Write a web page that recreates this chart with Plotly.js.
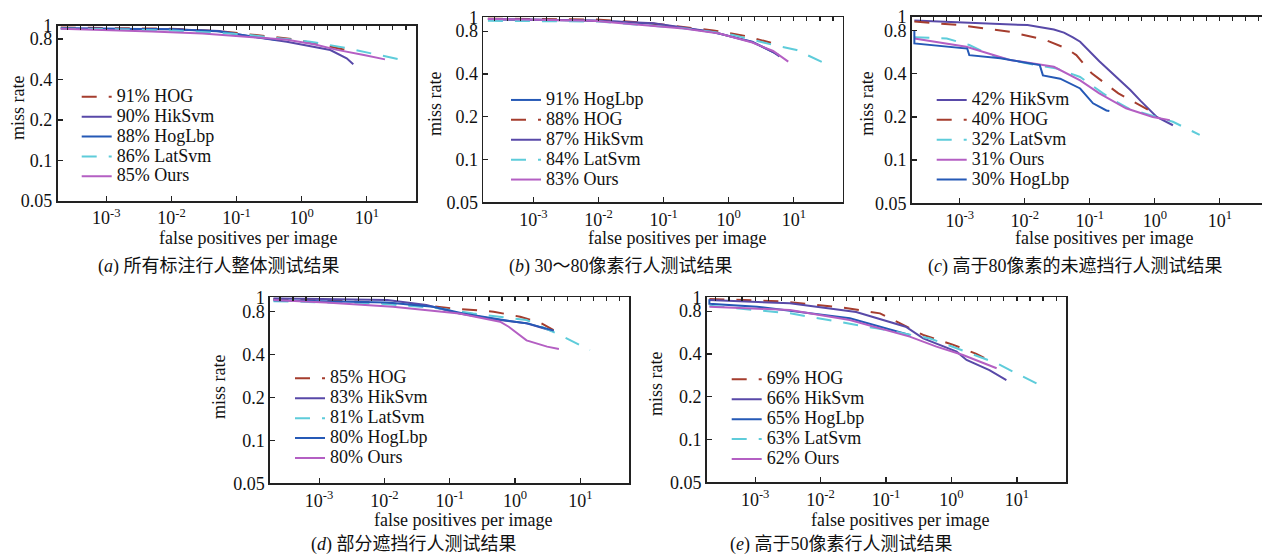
<!DOCTYPE html>
<html><head><meta charset="utf-8">
<script src="https://cdn.plot.ly/plotly-3.0.1.min.js"></script>
<style>html,body{margin:0;padding:0;background:#fff}</style>
</head><body><div id="chart" style="width:1262px;height:559px"></div>
<script>
// ---------- tick labels ----------
const xTickVals = [0.001, 0.01, 0.1, 1, 10];
const xTickText = ['10<sup>-3</sup>', '10<sup>-2</sup>', '10<sup>-1</sup>', '10<sup>0</sup>', '10<sup>1</sup>'];
const yTickVals = [0.05, 0.1, 0.2, 0.4, 0.8, 1];
const yTickText = ['0.05', '0.1', '0.2', '0.4', '0.8', '1'];

// ---------- panel (a) ----------
const aOrder = ['HOG', 'HikSvm', 'HogLbp', 'LatSvm', 'Ours'];
const aRates = ['91%', '90%', '88%', '86%', '85%'];
const a_HOG_fppi = [2e-4, 1e-3, 0.01, 0.05, 0.16, 0.6, 1.5, 3, 4.4, 5.5];
const a_HOG_mr = [0.975, 0.97, 0.955, 0.92, 0.87, 0.81, 0.75, 0.70, 0.67, 0.615];
const a_HikSvm_fppi = [2e-4, 1e-3, 0.01, 0.055, 0.18, 0.59, 1.5, 2.75, 4.9, 6.2];
const a_HikSvm_mr = [0.96, 0.955, 0.945, 0.92, 0.83, 0.765, 0.70, 0.663, 0.575, 0.52];
const a_HogLbp_fppi = [2e-4, 1e-3, 0.01, 0.05, 0.15, 0.4];
const a_HogLbp_mr = [0.965, 0.958, 0.945, 0.915, 0.85, 0.79];
const a_LatSvm_fppi = [2e-4, 1e-3, 0.01, 0.12, 0.47, 1.35, 3.9, 12, 32, 42];
const a_LatSvm_mr = [0.955, 0.95, 0.925, 0.87, 0.81, 0.765, 0.70, 0.626, 0.565, 0.55];
const a_Ours_fppi = [2e-4, 1e-3, 5e-3, 0.03, 0.15, 0.6, 1.6, 3.5, 9, 19];
const a_Ours_mr = [0.955, 0.935, 0.91, 0.88, 0.835, 0.79, 0.73, 0.665, 0.61, 0.565];

// ---------- panel (b) ----------
const bOrder = ['HogLbp', 'HOG', 'HikSvm', 'LatSvm', 'Ours'];
const bRates = ['91%', '88%', '87%', '84%', '83%'];
const b_HOG_fppi = [2e-4, 1e-3, 9e-3, 0.05, 0.16, 0.58, 1.8, 4.8, 5.4];
const b_HOG_mr = [0.98, 0.975, 0.965, 0.92, 0.87, 0.81, 0.74, 0.656, 0.625];
const b_HikSvm_fppi = [2e-4, 1e-3, 0.01, 0.07, 0.58, 2.3, 4.8, 6];
const b_HikSvm_mr = [0.97, 0.965, 0.945, 0.908, 0.79, 0.67, 0.57, 0.53];
const b_HogLbp_fppi = [2e-4, 1e-3, 0.01, 0.07, 0.58, 2.3, 4.5, 5.8];
const b_HogLbp_mr = [0.972, 0.966, 0.948, 0.90, 0.785, 0.675, 0.58, 0.545];
const b_LatSvm_fppi = [2e-4, 1e-3, 0.01, 0.1, 0.32, 1.2, 3, 4.8, 11, 38];
const b_LatSvm_mr = [0.945, 0.945, 0.935, 0.86, 0.82, 0.75, 0.67, 0.64, 0.59, 0.45];
const b_Ours_fppi = [2e-4, 1e-3, 8e-3, 0.18, 0.72, 2.3, 4.8, 8.2];
const b_Ours_mr = [0.975, 0.965, 0.947, 0.84, 0.77, 0.665, 0.58, 0.488];

// ---------- panel (c) ----------
const cOrder = ['HikSvm', 'HOG', 'LatSvm', 'Ours', 'HogLbp'];
const cRates = ['42%', '40%', '32%', '31%', '30%'];
const c_HikSvm_fppi = [2e-4, 1.6e-3, 0.011, 0.028, 0.04, 0.055, 0.071, 0.14, 0.25, 0.42, 0.6, 1.07, 1.9];
const c_HikSvm_mr = [0.94, 0.91, 0.875, 0.816, 0.775, 0.718, 0.67, 0.49, 0.385, 0.308, 0.26, 0.2, 0.175];
const c_HOG_fppi = [2e-4, 1e-3, 5.9e-3, 0.021, 0.044, 0.062, 0.107, 0.275, 0.8, 0.9];
const c_HOG_mr = [0.925, 0.875, 0.786, 0.688, 0.6, 0.54, 0.403, 0.292, 0.224, 0.218];
const c_LatSvm_fppi = [2e-4, 6.3e-4, 1.4e-3, 2.3e-3, 3.6e-3, 0.0107, 0.031, 0.071, 0.16, 0.23, 0.42, 1.5, 1.9, 4.9];
const c_LatSvm_mr = [0.72, 0.706, 0.635, 0.57, 0.526, 0.473, 0.435, 0.38, 0.292, 0.263, 0.226, 0.19, 0.185, 0.15];
const c_Ours_fppi = [2e-4, 1.26e-3, 5.9e-3, 0.028, 0.071, 0.14, 0.36, 0.93, 1.7];
const c_Ours_mr = [0.706, 0.618, 0.50, 0.448, 0.36, 0.292, 0.23, 0.20, 0.19];
const c_HogLbp_fppi = [2e-4, 2e-4, 1.3e-3, 1.4e-3, 4.2e-3, 0.017, 0.019, 0.035, 0.071, 0.112, 0.18, 0.2];
const c_HogLbp_mr = [0.80, 0.652, 0.60, 0.54, 0.513, 0.46, 0.39, 0.37, 0.316, 0.249, 0.222, 0.22];

// ---------- panel (d) ----------
const dOrder = ['HOG', 'HikSvm', 'LatSvm', 'HogLbp', 'Ours'];
const dRates = ['85%', '83%', '81%', '80%', '80%'];
const d_HOG_fppi = [2e-4, 4.2e-3, 0.044, 0.11, 0.47, 1.2, 2.5, 3.9];
const d_HOG_mr = [0.975, 0.933, 0.875, 0.837, 0.794, 0.732, 0.66, 0.59];
const d_HikSvm_fppi = [2e-4, 0.011, 0.044, 0.14, 0.59, 1.5, 3.9];
const d_HikSvm_mr = [0.984, 0.958, 0.884, 0.77, 0.694, 0.658, 0.58];
const d_LatSvm_fppi = [2e-4, 0.01, 0.071, 0.23, 1.5, 4.9, 14];
const d_LatSvm_mr = [0.94, 0.9, 0.837, 0.77, 0.694, 0.545, 0.428];
const d_HogLbp_fppi = [2e-4, 0.011, 0.055, 0.16, 0.59, 1.6, 3.9];
const d_HogLbp_mr = [0.955, 0.92, 0.86, 0.77, 0.70, 0.655, 0.585];
const d_Ours_fppi = [2e-4, 1.26e-3, 0.0135, 0.14, 0.59, 0.8, 1.5, 3.1, 4.7];
const d_Ours_mr = [0.958, 0.92, 0.86, 0.77, 0.676, 0.623, 0.50, 0.452, 0.435];

// ---------- panel (e) ----------
const eOrder = ['HOG', 'HikSvm', 'HogLbp', 'LatSvm', 'Ours'];
const eRates = ['69%', '66%', '65%', '63%', '62%'];
const e_HOG_fppi = [2e-4, 2.4e-3, 0.022, 0.081, 0.37, 1.07, 2.4, 4];
const e_HOG_mr = [0.975, 0.94, 0.846, 0.772, 0.544, 0.463, 0.40, 0.355];
const e_HikSvm_fppi = [2e-4, 3.4e-3, 0.035, 0.2, 0.37, 1.2, 1.7, 3.8, 6.9];
const e_HikSvm_mr = [0.958, 0.908, 0.79, 0.622, 0.514, 0.415, 0.363, 0.308, 0.262];
const e_HogLbp_fppi = [2e-4, 2e-4, 1.07e-3, 0.028, 0.23];
const e_HogLbp_mr = [0.97, 0.90, 0.86, 0.712, 0.544];
const e_LatSvm_fppi = [2e-4, 3.4e-3, 0.072, 0.47, 1.2, 4.9, 12.3, 25];
const e_LatSvm_mr = [0.874, 0.772, 0.605, 0.514, 0.438, 0.344, 0.277, 0.235];
const e_Ours_fppi = [2e-4, 3.4e-3, 0.028, 0.23, 0.59, 1.5, 4.9];
const e_Ours_mr = [0.86, 0.815, 0.693, 0.529, 0.45, 0.393, 0.317];

// ---------- text ----------
const captions = ['(<i>a</i>) 所有标注行人整体测试结果', '(<i>b</i>) 30～80像素行人测试结果',
  '(<i>c</i>) 高于80像素的未遮挡行人测试结果', '(<i>d</i>) 部分遮挡行人测试结果', '(<i>e</i>) 高于50像素行人测试结果'];
const xTitle = 'false positives per image';
const yTitle = 'miss rate';

// ---------- styles ----------
const W = 1262, H = 559;
const colors = {HOG: '#A53D2E', HikSvm: '#5849A8', HogLbp: '#2559B6', LatSvm: '#5ECCDA', Ours: '#B45FC3'};
const dashes = {HOG: '15px,12px', LatSvm: '15px,12px', HikSvm: 'solid', HogLbp: 'solid', Ours: 'solid'};
const serif = 'Liberation Serif, Times New Roman, serif';
const cjk = 'Liberation Serif, Noto Sans CJK SC, serif';

// pixel geometry of each panel: [left, right, top, bottom], x log range, legend pos, text pos
const geo = [
  {box: [57.5, 416, 26, 201], xr: [-3.75, 1.755], leg: [76.7, 81.8], cap: [219, 266], xt: [248, 238], yt: [18, 108], mirror: true},
  {box: [483.3, 842.7, 17.3, 202.3], xr: [-3.77, 1.75], leg: [506, 85], cap: [620.5, 266], xt: [676.7, 238], yt: [435, 103], mirror: true},
  {box: [911.7, 1262, 16.7, 203.3], xr: [-3.74, 1.649], leg: [931.7, 85], cap: [1075, 266], xt: [1103.8, 238], yt: [866.7, 103], mirror: false},
  {box: [270, 629.3, 297.3, 483.3], xr: [-3.752, 1.75], leg: [290, 363.4], cap: [413.7, 544], xt: [463, 520], yt: [218.3, 386.7], mirror: true},
  {box: [706.7, 1066, 297.3, 482.3], xr: [-3.74, 1.75], leg: [726.7, 364.4], cap: [841.5, 544], xt: [900, 520], yt: [656.7, 383.3], mirror: true}
];

const panels = [
  {order: aOrder, rates: aRates, d: {HOG: [a_HOG_fppi, a_HOG_mr], HikSvm: [a_HikSvm_fppi, a_HikSvm_mr], HogLbp: [a_HogLbp_fppi, a_HogLbp_mr], LatSvm: [a_LatSvm_fppi, a_LatSvm_mr], Ours: [a_Ours_fppi, a_Ours_mr]}},
  {order: bOrder, rates: bRates, d: {HOG: [b_HOG_fppi, b_HOG_mr], HikSvm: [b_HikSvm_fppi, b_HikSvm_mr], HogLbp: [b_HogLbp_fppi, b_HogLbp_mr], LatSvm: [b_LatSvm_fppi, b_LatSvm_mr], Ours: [b_Ours_fppi, b_Ours_mr]}},
  {order: cOrder, rates: cRates, d: {HOG: [c_HOG_fppi, c_HOG_mr], HikSvm: [c_HikSvm_fppi, c_HikSvm_mr], HogLbp: [c_HogLbp_fppi, c_HogLbp_mr], LatSvm: [c_LatSvm_fppi, c_LatSvm_mr], Ours: [c_Ours_fppi, c_Ours_mr]}},
  {order: dOrder, rates: dRates, d: {HOG: [d_HOG_fppi, d_HOG_mr], HikSvm: [d_HikSvm_fppi, d_HikSvm_mr], HogLbp: [d_HogLbp_fppi, d_HogLbp_mr], LatSvm: [d_LatSvm_fppi, d_LatSvm_mr], Ours: [d_Ours_fppi, d_Ours_mr]}},
  {order: eOrder, rates: eRates, d: {HOG: [e_HOG_fppi, e_HOG_mr], HikSvm: [e_HikSvm_fppi, e_HikSvm_mr], HogLbp: [e_HogLbp_fppi, e_HogLbp_mr], LatSvm: [e_LatSvm_fppi, e_LatSvm_mr], Ours: [e_Ours_fppi, e_Ours_mr]}}
];

const traces = [];
const layout = {
  width: W, height: H, margin: {l: 0, r: 0, t: 0, b: 0},
  paper_bgcolor: '#fff', plot_bgcolor: 'rgba(0,0,0,0)',
  showlegend: true, annotations: []
};
const px2x = p => p / W, py2y = p => 1 - p / H;

panels.forEach((p, i) => {
  const k = i + 1;
  const xid = k === 1 ? 'x' : 'x' + k, yid = k === 1 ? 'y' : 'y' + k;
  const g = geo[i];
  const legKey = k === 1 ? 'legend' : 'legend' + k;
  p.order.forEach((m, j) => {
    traces.push({
      type: 'scatter', mode: 'lines', x: p.d[m][0], y: p.d[m][1],
      xaxis: xid, yaxis: yid, legend: legKey,
      name: '<span style="font-size:18px">' + p.rates[j] + ' ' + m + '</span>',
      line: {color: colors[m], width: 2, dash: dashes[m]},
      hoverinfo: 'skip'
    });
  });
  const xdom = [px2x(g.box[0]), Math.min(1, px2x(g.box[1]))];
  const ydom = [py2y(g.box[3]), py2y(g.box[2])];
  layout[k === 1 ? 'xaxis' : 'xaxis' + k] = {
    domain: xdom, anchor: yid, type: 'log', range: g.xr,
    tickmode: 'array', tickvals: xTickVals, ticktext: xTickText,
    ticks: 'inside', ticklen: 5, tickwidth: 1.2, tickcolor: '#222',
    showline: true, linecolor: '#222', linewidth: 1.6, mirror: false,
    showgrid: false, zeroline: false,
    tickfont: {family: serif, size: 18, color: '#111'}
  };
  layout[k === 1 ? 'yaxis' : 'yaxis' + k] = {
    domain: ydom, anchor: xid, type: 'log', range: [Math.log10(0.05) - 0.0005, 0.0005],
    tickmode: 'array', tickvals: yTickVals, ticktext: yTickText,
    ticks: 'inside', ticklen: 5, tickwidth: 1.2, tickcolor: '#222',
    showline: true, linecolor: '#222', linewidth: 1.6, mirror: g.mirror,
    showgrid: false, zeroline: false,
    tickfont: {family: serif, size: 18, color: '#111'}
  };
  // top border with small evenly spaced ticks (every 0.2 decade), as a second x axis
  const topId = 'x' + (k + 5);
  layout['xaxis' + (k + 5)] = {
    overlaying: xid, anchor: yid, side: 'top', type: 'log', range: g.xr,
    tickmode: 'linear', tick0: 0, dtick: 0.2,
    ticks: 'inside', ticklen: 4, tickwidth: 1.2, tickcolor: '#222',
    showticklabels: false, showline: true, linecolor: '#222', linewidth: 1.6,
    showgrid: false, zeroline: false
  };
  // an empty helper trace so the top axis is set up like a normal axis
  traces.push({type: 'scatter', mode: 'lines', x: [], y: [], xaxis: topId, yaxis: yid,
    showlegend: false, hoverinfo: 'skip'});
  layout[legKey] = {
    x: px2x(g.leg[0]), y: py2y(g.leg[1]), xanchor: 'left', yanchor: 'top',
    bgcolor: 'rgba(0,0,0,0)', borderwidth: 0, itemwidth: 30, tracegroupgap: 0,
    font: {family: serif, size: 13, color: '#111'}, traceorder: 'normal'
  };
  layout.annotations.push(
    {text: captions[i], x: px2x(g.cap[0]), y: py2y(g.cap[1]), xref: 'paper', yref: 'paper',
     xanchor: 'center', yanchor: 'middle', showarrow: false, font: {family: cjk, size: 18, color: '#111'}},
    {text: xTitle, x: px2x(g.xt[0]), y: py2y(g.xt[1]), xref: 'paper', yref: 'paper',
     xanchor: 'center', yanchor: 'middle', showarrow: false, font: {family: serif, size: 18, color: '#111'}},
    {text: yTitle, x: px2x(g.yt[0]), y: py2y(g.yt[1]), xref: 'paper', yref: 'paper', textangle: -90,
     xanchor: 'center', yanchor: 'middle', showarrow: false, font: {family: serif, size: 18, color: '#111'}}
  );
});

Plotly.newPlot('chart', traces, layout, {staticPlot: true, displayModeBar: false});
</script></body></html>
